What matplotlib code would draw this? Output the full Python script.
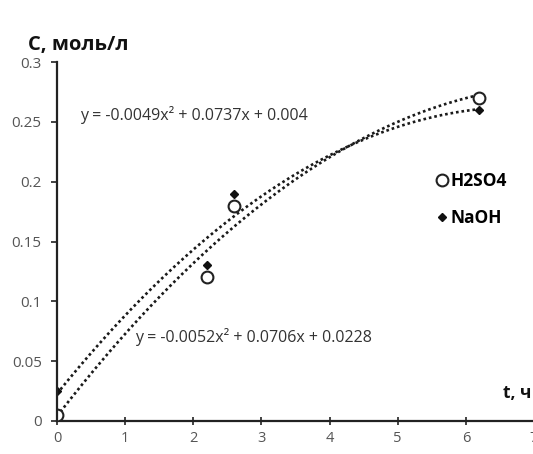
import numpy as np
import matplotlib
matplotlib.use("Agg")
import matplotlib.pyplot as plt

plt.rcParams['font.family'] = ['Open Sans', 'DejaVu Sans']

# datos
t = [0, 2.2, 2.6, 6.2]
c_h2so4 = [0.005, 0.12, 0.18, 0.27]
c_naoh = [0.025, 0.13, 0.19, 0.26]

# coeficientes de las lineas de tendencia (a, b, c)
coef_h2so4 = [-0.0049, 0.0737, 0.004]
coef_naoh = [-0.0052, 0.0706, 0.0228]

eq_h2so4 = "y = -0.0049x² + 0.0737x + 0.004"
eq_naoh = "y = -0.0052x² + 0.0706x + 0.0228"

fig = plt.figure(figsize=(5.33, 4.54), dpi=100)
ax = fig.add_axes([57/533, 33/454, 477/533, 359/454])

xs = np.linspace(0, 6.2, 200)
gris = '#1a1a1a'
ax.plot(xs, np.polyval(coef_h2so4, xs), color=gris, lw=1.9, linestyle=(0, (1, 1.1)))
ax.plot(xs, np.polyval(coef_naoh, xs), color=gris, lw=1.9, linestyle=(0, (1, 1.1)))

ax.plot(t, c_h2so4, 'o', mfc='white', mec='#222222', mew=1.5, ms=8.5, label='H2SO4', zorder=3)
ax.plot(t, c_naoh, 'D', color='#111111', ms=4.5, label='NaOH', zorder=4)

ax.set_xlim(0, 7)
ax.set_ylim(0, 0.3)
ax.set_xticks(range(0, 8))
ax.set_yticks([0, 0.05, 0.1, 0.15, 0.2, 0.25, 0.3])
ax.set_yticklabels(['0', '0.05', '0.1', '0.15', '0.2', '0.25', '0.3'])

for s in ['top', 'right']:
    ax.spines[s].set_visible(False)
for s in ['left', 'bottom']:
    ax.spines[s].set_linewidth(1.6)
    ax.spines[s].set_color('#222222')

ax.tick_params(axis='x', direction='inout', length=6, width=1.2, labelsize=10.5, labelcolor='#555555', color='#222222', pad=4)
ax.tick_params(axis='y', direction='out', length=4, width=1.2, labelsize=11, labelcolor='#555555', color='#222222', pad=7)
ax.spines['left'].set_zorder(5)

ax.text(0.34, 0.256, eq_h2so4, fontsize=11.5, color='#333333', va='center')
ax.text(1.14, 0.07, eq_naoh, fontsize=11.5, color='#333333', va='center')

ax.legend(loc='center left', bbox_to_anchor=(0.77, 0.618), frameon=False,
          handletextpad=0.0, handlelength=1.0, labelspacing=1.1, borderpad=0,
          prop={'weight': 'bold', 'size': 12.5})

fig.text(28/533, 1 - 45/454, "C, моль/л", fontsize=14.5, fontweight='bold', va='center', color='#111111')
fig.text(503/533, 1 - 393/454, "t, ч", fontsize=12.5, fontweight='bold', va='center', color='#111111')

fig.savefig("out.png", dpi=100)
